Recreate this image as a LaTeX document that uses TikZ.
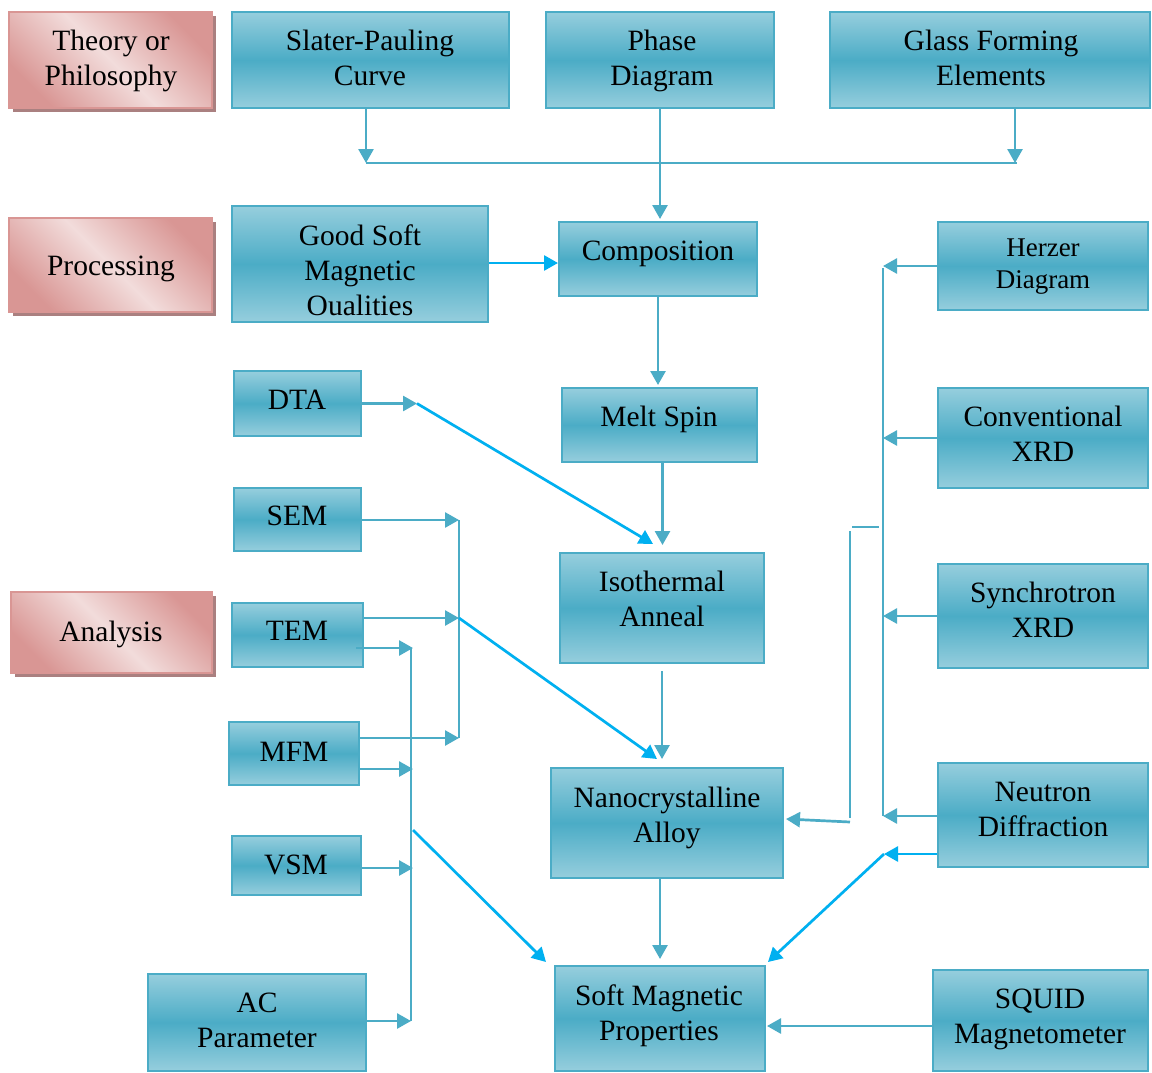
\documentclass[tikz,border=0pt]{standalone}
\usepackage{fontspec}
\setmainfont{Liberation Serif}
\usetikzlibrary{arrows.meta,fit,shadows}
\definecolor{bdark}{RGB}{75,172,198}
\definecolor{blight}{RGB}{150,206,221}
\definecolor{bright}{RGB}{0,176,240}
\definecolor{pdark}{RGB}{217,150,148}
\definecolor{plight}{RGB}{242,220,219}
\definecolor{pshadow}{RGB}{170,128,128}
\begin{document}
\begin{tikzpicture}[x=1pt,y=-1pt,
 bluebox/.style={draw=bdark, line width=2pt, top color=blight, bottom color=blight, middle color=bdark, inner sep=0pt},
 pinkbox/.style={draw=pdark, line width=2pt, top color=pdark, bottom color=pdark, middle color=plight, shading angle=-45, inner sep=0pt, drop shadow={shadow xshift=4pt, shadow yshift=-4pt, fill=pshadow, opacity=1}},
 txt/.style={font=\fontsize{29.5}{35}\selectfont, align=center, inner sep=0pt, anchor=north},
 stxt/.style={font=\fontsize{27}{32}\selectfont, align=center, inner sep=0pt, anchor=north},
 ln/.style={draw=bdark, line width=2.7pt},
 bln/.style={draw=bright, line width=2.7pt},
 tip/.style={-{Triangle[length=14pt,width=15pt]}},
]
\useasboundingbox (0,0) rectangle (1152,1073);
\fill[white] (0,0) rectangle (1152,1073);

% pink label boxes
\node[pinkbox, fit={(9,12)(212,108)}] (theory) {};
\node[pinkbox, fit={(9,218)(212,312)}] (proc) {};
\node[pinkbox, fit={(11,592)(212,673)}] (anal) {};

% blue boxes
\node[bluebox, fit={(232,12)(509,108)}] (slater) {};
\node[bluebox, fit={(546,12)(774,108)}] (phase) {};
\node[bluebox, fit={(830,12)(1150,108)}] (glass) {};
\node[bluebox, fit={(232,206)(488,322)}] (good) {};
\node[bluebox, fit={(559,222)(757,296)}] (comp) {};
\node[bluebox, fit={(938,222)(1148,310)}] (herzer) {};
\node[bluebox, fit={(234,371)(361,436)}] (dta) {};
\node[bluebox, fit={(562,388)(757,462)}] (melt) {};
\node[bluebox, fit={(938,388)(1148,488)}] (conv) {};
\node[bluebox, fit={(234,488)(361,551)}] (sem) {};
\node[bluebox, fit={(560,553)(764,663)}] (iso) {};
\node[bluebox, fit={(938,564)(1148,668)}] (synch) {};
\node[bluebox, fit={(232,603)(363,667)}] (tem) {};
\node[bluebox, fit={(229,722)(359,785)}] (mfm) {};
\node[bluebox, fit={(551,768)(783,878)}] (nano) {};
\node[bluebox, fit={(938,763)(1148,867)}] (neutron) {};
\node[bluebox, fit={(232,836)(361,895)}] (vsm) {};
\node[bluebox, fit={(148,974)(366,1071)}] (ac) {};
\node[bluebox, fit={(555,966)(765,1071)}] (soft) {};
\node[bluebox, fit={(933,970)(1148,1071)}] (squid) {};

% texts
\node[txt] (t1) at (111,30) {Theory or\\Philosophy};
\node[txt] (t2) at (111,256) {Processing};
\node[txt] (t3) at (111,621) {Analysis};
\node[txt] (t4) at (370,30) {Slater-Pauling\\Curve};
\node[txt] (t5) at (662,30) {Phase\\Diagram};
\node[txt] (t6) at (991,30) {Glass Forming\\Elements};
\node[txt] (t7) at (360,225) {Good Soft\\Magnetic\\Oualities};
\node[txt] (t8) at (658,241) {Composition};
\node[stxt] (t9) at (1043,239) {Herzer\\Diagram};
\node[txt] (t10) at (297,390) {DTA};
\node[txt] (t11) at (659,406) {Melt Spin};
\node[txt] (t12) at (1043,406) {Conventional\\XRD};
\node[txt] (t13) at (297,506) {SEM};
\node[txt] (t14) at (662,571) {Isothermal\\Anneal};
\node[txt] (t15) at (1043,582) {Synchrotron\\XRD};
\node[txt] (t16) at (297,621) {TEM};
\node[txt] (t17) at (294,742) {MFM};
\node[txt] (t18) at (667,787) {Nanocrystalline\\Alloy};
\node[txt] (t19) at (1043,782) {Neutron\\Diffraction};
\node[txt] (t20) at (296,855) {VSM};
\node[txt] (t21) at (257,993) {AC\\Parameter};
\node[txt] (t22) at (659,985) {Soft Magnetic\\Properties};
\node[txt] (t23) at (1040,989) {SQUID\\Magnetometer};

% junction coordinates
\coordinate (tl) at (366,163);
\coordinate (tr) at (1015,163);
\coordinate (jd) at (417,403.5);
\coordinate (ja) at (459,520);
\coordinate (jb) at (459,618);
\coordinate (jc) at (459,738);
\coordinate (k1) at (411,648);
\coordinate (k2) at (411,769);
\coordinate (k3) at (411,868);
\coordinate (k4) at (411,1021);
\coordinate (kd) at (413,830);
\coordinate (r1) at (883,268);
\coordinate (r4) at (883,816);
\coordinate (s1) at (852,527);
\coordinate (s2) at (879,527);
\coordinate (s3) at (850,531);
\coordinate (s4) at (850,818);
\coordinate (s5) at (850,822);
\coordinate (nb) at (884,854);
\coordinate (q) at (767,1026);

% top connectors
\draw[ln,tip] (slater.south -| tl) -- (tl);
\draw[ln,tip] (glass.south -| tr) -- (tr);
\draw[ln] (tl) -- ([xshift=2pt]tr);
\draw[ln,tip] (phase.south) -- ([yshift=2pt]phase.south |- comp.north);
\draw[bln,tip] (good.east |- 0,263) -- (comp.west |- 0,263);

% central chain
\draw[ln,tip] (comp.south) -- ([yshift=2pt]comp.south |- melt.north);
\draw[ln,tip] ([xshift=3pt]melt.south) -- ([xshift=3pt,yshift=7pt]melt.south |- iso.north);
\draw[ln,tip] ([yshift=-7pt]iso.south) -- ([yshift=8pt]iso.south |- nano.north);
\draw[ln,tip] (nano.south -| soft.north) -- ([yshift=6pt]soft.north);

% DTA
\draw[ln,tip] (dta.east) -- (jd);
\draw[bln,tip] (jd) -- ([xshift=-9pt,yshift=8pt]iso.north);

% SEM/TEM/MFM column
\draw[ln,tip] (sem.east |- ja) -- (ja);
\draw[ln,tip] (tem.east |- jb) -- (jb);
\draw[ln,tip] (mfm.east |- jc) -- (jc);
\draw[ln] (ja) -- (jc);
\draw[bln,tip] (jb) -- ([xshift=-10pt,yshift=8pt]nano.north);

% second column
\draw[ln,tip] ([xshift=-8pt]tem.east |- k1) -- ([xshift=2pt]k1);
\draw[ln,tip] (mfm.east |- k2) -- ([xshift=2pt]k2);
\draw[ln,tip] (vsm.east |- k3) -- ([xshift=2pt]k3);
\draw[ln,tip] (ac.east |- k4) -- (k4);
\draw[ln] (k1) -- (k4);
\draw[bln,tip] (kd) -- ([xshift=-8pt,yshift=3pt]soft.north west);

% right side
\draw[ln,tip] (herzer.west) -- (herzer.west -| r1);
\draw[ln,tip] (conv.west) -- (conv.west -| r1);
\draw[ln,tip] (synch.west) -- (synch.west -| r1);
\draw[ln,tip] (neutron.west |- r4) -- (r4);
\draw[ln] (r1) -- (r4);
\draw[ln] (s1) -- (s2);
\draw[ln] (s3) -- (s4);
\draw[ln,tip] (s5) -- ([xshift=2pt,yshift=4pt]nano.east);
\draw[bln,tip] (neutron.west |- nb) -- (nb);
\draw[bln,tip] (nb) -- ([xshift=2pt,yshift=3pt]soft.north east);
\draw[ln,tip] (squid.west |- q) -- (q);
\end{tikzpicture}
\end{document}
